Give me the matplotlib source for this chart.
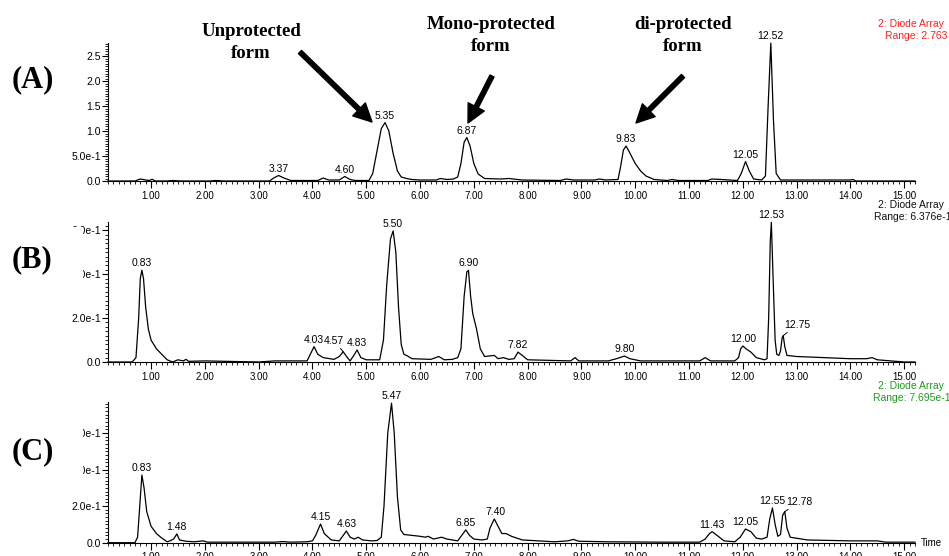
"""HPLC diode-array traces (A)-(C) with the protection-state annotations."""
import matplotlib

matplotlib.use("Agg")
import matplotlib.pyplot as plt
import numpy as np
from matplotlib.patches import Rectangle
from matplotlib.ticker import FixedLocator, MultipleLocator

# --------------------------------------------------------------------------------------
# Data (time in min, absorbance)
# --------------------------------------------------------------------------------------
A_TIME = [0.2, 0.7, 0.8, 0.9, 0.97, 1.02, 1.08, 1.3, 1.4, 1.55, 2.1, 2.2, 2.35, 3.2,
          3.28, 3.37, 3.47, 3.6, 4.1, 4.2, 4.3, 4.5, 4.6, 4.7, 4.8, 5.05, 5.12, 5.2,
          5.28, 5.35, 5.42, 5.5, 5.58, 5.65, 5.75, 5.85, 6.0, 6.3, 6.38, 6.5, 6.62,
          6.7, 6.76, 6.82, 6.87, 6.93, 7.0, 7.08, 7.2, 7.5, 7.65, 7.9, 8.6, 8.72, 8.85,
          9.25, 9.33, 9.45, 9.68, 9.73, 9.78, 9.83, 9.9, 10.0, 10.1, 10.2, 10.35, 10.6,
          10.68, 10.8, 11.35, 11.42, 11.6, 11.9, 11.97, 12.05, 12.12, 12.2, 12.35,
          12.42, 12.47, 12.52, 12.57, 12.62, 12.7, 14.0, 14.05, 14.1, 15.2]
A_ABS = [0.0, 0.0, 0.04, 0.02, 0.01, 0.035, 0.0, 0.0, 0.01, 0.0, 0.0, 0.01, 0.0, 0.0,
         0.06, 0.11, 0.06, 0.01, 0.01, 0.06, 0.02, 0.02, 0.09, 0.03, 0.01, 0.01, 0.15,
         0.6, 1.05, 1.17, 1.0, 0.55, 0.2, 0.08, 0.05, 0.03, 0.02, 0.02, 0.05, 0.03,
         0.04, 0.08, 0.35, 0.78, 0.87, 0.7, 0.35, 0.14, 0.05, 0.04, 0.05, 0.02, 0.01,
         0.04, 0.02, 0.02, 0.04, 0.02, 0.03, 0.3, 0.62, 0.7, 0.56, 0.35, 0.2, 0.1,
         0.03, 0.01, 0.03, 0.01, 0.01, 0.04, 0.03, 0.01, 0.15, 0.39, 0.2, 0.04, 0.02,
         0.1, 1.5, 2.76, 1.2, 0.15, 0.02, 0.02, 0.03, 0.0, 0.0]
A_PEAKS = [3.37, 4.60, 5.35, 6.87, 9.83, 12.05, 12.52]

B_TIME = [0.2, 0.65, 0.72, 0.77, 0.8, 0.83, 0.86, 0.9, 0.95, 1.0, 1.1, 1.2, 1.3, 1.4,
          1.5, 1.6, 1.65, 1.7, 2.0, 3.0, 3.3, 3.9, 3.97, 4.03, 4.1, 4.2, 4.4, 4.5,
          4.57, 4.65, 4.7, 4.77, 4.83, 4.9, 5.0, 5.25, 5.32, 5.38, 5.45, 5.5, 5.55,
          5.6, 5.65, 5.7, 5.75, 5.85, 6.2, 6.35, 6.45, 6.6, 6.7, 6.76, 6.82, 6.87,
          6.9, 6.94, 6.98, 7.05, 7.12, 7.2, 7.38, 7.45, 7.55, 7.65, 7.75, 7.82, 7.9,
          8.0, 8.8, 8.88, 8.95, 9.5, 9.65, 9.8, 9.9, 10.1, 11.2, 11.3, 11.4, 11.85,
          11.92, 11.96, 12.0, 12.06, 12.15, 12.25, 12.4, 12.45, 12.48, 12.51, 12.53,
          12.56, 12.6, 12.63, 12.67, 12.7, 12.73, 12.75, 12.78, 12.82, 13.0, 13.5,
          14.0, 14.3, 14.4, 14.5, 15.0, 15.2]
B_ABS = [0.0, 0.0, 0.02, 0.2, 0.38, 0.418, 0.38, 0.25, 0.15, 0.1, 0.06, 0.035, 0.01,
         0.0, 0.01, 0.005, 0.012, 0.003, 0.005, 0.0, 0.005, 0.005, 0.04, 0.07, 0.035,
         0.02, 0.012, 0.025, 0.047, 0.02, 0.005, 0.03, 0.055, 0.02, 0.01, 0.01, 0.1,
         0.35, 0.56, 0.597, 0.5, 0.25, 0.08, 0.035, 0.03, 0.015, 0.012, 0.025, 0.01,
         0.012, 0.02, 0.06, 0.3, 0.41, 0.418, 0.3, 0.22, 0.15, 0.06, 0.025, 0.03,
         0.015, 0.02, 0.012, 0.015, 0.045, 0.03, 0.01, 0.005, 0.02, 0.005, 0.005,
         0.015, 0.027, 0.015, 0.005, 0.005, 0.02, 0.005, 0.005, 0.02, 0.06, 0.073,
         0.06, 0.045, 0.02, 0.01, 0.015, 0.2, 0.55, 0.636, 0.4, 0.1, 0.035, 0.03,
         0.05, 0.11, 0.12, 0.07, 0.03, 0.025, 0.02, 0.015, 0.015, 0.02, 0.01, 0.0, 0.0]
B_PEAKS = [0.83, 4.03, 4.57, 4.83, 5.50, 6.90, 7.82, 9.80, 12.00, 12.53, 12.75]

C_TIME = [0.2, 0.7, 0.75, 0.79, 0.83, 0.87, 0.92, 1.0, 1.1, 1.2, 1.3, 1.35, 1.42,
          1.48, 1.53, 1.65, 1.8, 1.97, 2.05, 3.3, 3.45, 3.6, 3.9, 4.0, 4.06, 4.15,
          4.22, 4.35, 4.5, 4.56, 4.63, 4.7, 4.78, 4.85, 4.93, 5.1, 5.2, 5.28, 5.33,
          5.4, 5.47, 5.52, 5.58, 5.64, 5.7, 5.85, 6.0, 6.1, 6.15, 6.25, 6.4, 6.5, 6.7,
          6.8, 6.85, 6.92, 7.0, 7.15, 7.25, 7.3, 7.38, 7.45, 7.52, 7.6, 7.7, 7.9, 8.5,
          8.75, 8.85, 8.95, 9.5, 10.5, 11.2, 11.3, 11.38, 11.43, 11.52, 11.65, 11.85,
          11.95, 12.05, 12.15, 12.25, 12.35, 12.45, 12.5, 12.55, 12.6, 12.65, 12.7,
          12.74, 12.78, 12.82, 12.88, 13.2, 14.0, 14.5, 14.65, 15.2]
C_ABS = [0.0, 0.0, 0.03, 0.2, 0.37, 0.3, 0.17, 0.09, 0.05, 0.025, 0.005, 0.01, 0.02,
         0.048, 0.015, 0.008, 0.005, 0.01, 0.003, 0.003, 0.006, 0.003, 0.005, 0.01,
         0.04, 0.102, 0.05, 0.015, 0.01, 0.035, 0.064, 0.03, 0.02, 0.03, 0.015, 0.01,
         0.012, 0.03, 0.2, 0.6, 0.763, 0.6, 0.25, 0.07, 0.045, 0.04, 0.035, 0.03,
         0.035, 0.02, 0.03, 0.02, 0.01, 0.05, 0.07, 0.04, 0.02, 0.015, 0.02, 0.08,
         0.13, 0.09, 0.05, 0.05, 0.035, 0.015, 0.005, 0.01, 0.018, 0.008, 0.005,
         0.003, 0.003, 0.02, 0.05, 0.06, 0.04, 0.01, 0.005, 0.03, 0.075, 0.06, 0.025,
         0.02, 0.03, 0.13, 0.19, 0.1, 0.035, 0.045, 0.15, 0.17, 0.08, 0.03, 0.015,
         0.01, 0.01, 0.003, 0.003]
C_PEAKS = [0.83, 1.48, 4.15, 4.63, 5.47, 6.85, 7.40, 11.43, 12.05, 12.55, 12.78]

RANGES = [2.763, 0.6376, 0.7695]
RANGE_TEXT = ["Range: 2.763", "Range: 6.376e-1", "Range: 7.695e-1"]
Y_TICKS = [[0.0, 0.5, 1.0, 1.5, 2.0, 2.5], [0.0, 0.2, 0.4, 0.6], [0.0, 0.2, 0.4, 0.6]]
Y_LABELS = [["0.0", "5.0e-1", "1.0", "1.5", "2.0", "2.5"],
            ["0.0", "2.0e-1", "4.0e-1", "6.0e-1"],
            ["0.0", "2.0e-1", "4.0e-1", "6.0e-1"]]
PANELS = ["(A)", "(B)", "(C)"]

# --------------------------------------------------------------------------------------
# Layout (reference pixels, origin top-left)
# --------------------------------------------------------------------------------------
W, H = 949, 556
AX_LEFT, AX_RIGHT = 108, 915
AX_ROWS = [(43, 181), (222, 362), (402, 542.7)]
RANGE_COLORS = ["#FF2020", "#111111", "#1E9A1E"]
SERIF = ["Liberation Serif", "DejaVu Serif"]

# labels that sit beside their peak with a short leader line: (panel, rt) -> offset px
LEADER = {(1, 4.57): (-9, 6), (1, 12.75): (14, 6), (2, 12.78): (15, 5)}


def fx(x):
    return x / W


def fy(y):
    return 1 - y / H


def peak_top(times, values, rt):
    t = np.asarray(times)
    v = np.asarray(values)
    near = np.abs(t - rt) <= 0.06
    return v[near].max()


plt.rcParams.update({
    "font.family": ["Liberation Sans", "DejaVu Sans"],
    "font.size": 7,
})

fig = plt.figure(figsize=(W / 100, H / 100), dpi=100)

traces = [(A_TIME, A_ABS, A_PEAKS), (B_TIME, B_ABS, B_PEAKS), (C_TIME, C_ABS, C_PEAKS)]
minor_y = [0.05, 0.02, 0.02]
axes = []
for i, ((top, bottom), (times, values, peaks)) in enumerate(zip(AX_ROWS, traces)):
    ax = fig.add_axes([fx(AX_LEFT), fy(bottom), fx(AX_RIGHT - AX_LEFT),
                       (bottom - top) / H])
    ax.plot(times, values, color="black", linewidth=0.9, clip_on=False)
    ax.set_xlim(0.2, 15.2)
    ax.set_ylim(0, RANGES[i])
    for side in ("top", "right"):
        ax.spines[side].set_visible(False)
    for side in ("left", "bottom"):
        ax.spines[side].set_linewidth(0.8)
    ax.xaxis.set_major_locator(FixedLocator(np.arange(1, 16)))
    ax.xaxis.set_minor_locator(MultipleLocator(0.1))
    ax.set_xticklabels([f"{v:.2f}" for v in np.arange(1, 16)])
    ax.yaxis.set_major_locator(FixedLocator(Y_TICKS[i]))
    ax.set_yticklabels(Y_LABELS[i])
    ax.yaxis.set_minor_locator(MultipleLocator(minor_y[i]))
    ax.tick_params(axis="x", which="major", length=5, width=0.8, pad=2, labelsize=7)
    ax.tick_params(axis="x", which="minor", length=2.5, width=0.6)
    ax.tick_params(axis="y", which="major", length=4, width=0.8, pad=1, labelsize=7.5)
    ax.tick_params(axis="y", which="minor", length=2.5, width=0.6)

    for rt in peaks:
        top_val = peak_top(times, values, rt)
        if (i, rt) in LEADER:
            dx, dy = LEADER[(i, rt)]
            ax.annotate(f"{rt:.2f}", (rt, top_val), xytext=(dx, dy),
                        textcoords="offset pixels", ha="center", va="bottom",
                        fontsize=7.5, annotation_clip=False,
                        arrowprops=dict(arrowstyle="-", lw=0.7, shrinkA=0,
                                        shrinkB=0, color="black"))
        else:
            ax.annotate(f"{rt:.2f}", (rt, top_val), xytext=(0, 2),
                        textcoords="offset pixels", ha="center", va="bottom",
                        fontsize=7.5, annotation_clip=False)
    axes.append(ax)

# instrument header at the right of every trace
header_rows = [(24, 36, 947), (205, 217, 951), (386, 398, 951)]
for (y1, y2, xr), txt, col in zip(header_rows, RANGE_TEXT, RANGE_COLORS):
    fig.text(fx(944), fy(y1), "2: Diode Array", ha="right", va="center",
             fontsize=7.5, color=col)
    fig.text(fx(xr), fy(y2), txt, ha="right", va="center", fontsize=7.5, color=col)

fig.text(fx(921), fy(543), "Time", ha="left", va="center", fontsize=7)

# the panel-letter boxes hide part of the B/C tick labels
for y0, y1 in [(227, 285), (427, 477)]:
    fig.patches.append(Rectangle((0, fy(y1)), fx(83), (y1 - y0) / H,
                                 transform=fig.transFigure, facecolor="white",
                                 edgecolor="none", zorder=5))

for label, yc in zip(PANELS, [80, 260, 452]):
    fig.text(fx(12), fy(yc), label, ha="left", va="center", fontsize=22,
             fontweight="bold", family=SERIF, zorder=6)

# protection-state callouts on trace A
callouts = [("Unprotected\nform", (251, 42.5), (300, 52), (372, 122)),
            ("Mono-protected\nform", (491, 35.5), (492, 76), (468, 123)),
            ("di-protected\nform", (683, 35.5), (683, 76), (636, 123))]
for text, (tx, ty), tail, tip in callouts:
    fig.text(fx(tx), fy(ty), text, ha="center", va="center", fontsize=13.5,
             fontweight="bold", family=SERIF, linespacing=1.4, multialignment="center")
    axes[0].annotate("", xy=(fx(tip[0]), fy(tip[1])), xycoords="figure fraction",
                     xytext=(fx(tail[0]), fy(tail[1])), textcoords="figure fraction",
                     arrowprops=dict(facecolor="black", edgecolor="black", width=3.2,
                                     headwidth=13, headlength=13, shrink=0),
                     annotation_clip=False)

fig.savefig("out.png", dpi=100)
